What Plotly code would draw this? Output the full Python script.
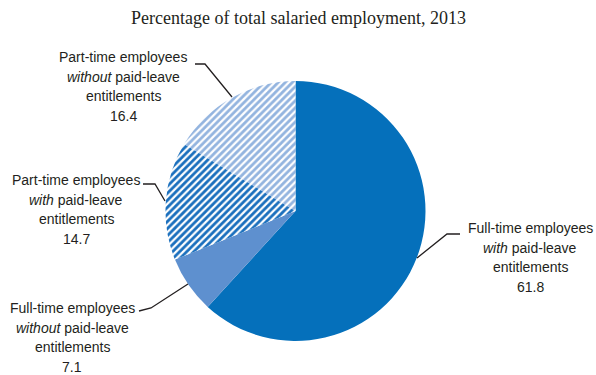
import plotly.graph_objects as go

# Shares of total salaried employment, 2013 (per cent)
categories = [
    "Full-time employees with paid-leave entitlements",
    "Full-time employees without paid-leave entitlements",
    "Part-time employees with paid-leave entitlements",
    "Part-time employees without paid-leave entitlements",
]
values = [61.8, 7.1, 14.7, 16.4]

# Label text lines (value appended from the data)
label_lines = [
    ["Full-time employees", "<i>with</i> paid-leave", "entitlements"],
    ["Full-time employees", "<i>without</i> paid-leave", "entitlements"],
    ["Part-time employees", "<i>with</i> paid-leave", "entitlements"],
    ["Part-time employees", "<i>without</i> paid-leave", "entitlements"],
]

W, H = 596, 375
slice_colors = ["#0570bb", "#5e90cf", "#ffffff", "#ffffff"]
pattern_shapes = ["", "", "/", "/"]
pattern_fg = ["#0570bb", "#5e90cf", "#1a6fbd", "#93b4df"]

# Pie placement in pixels
cx, cy, r = 295.5, 211, 130

fig = go.Figure()
fig.add_trace(go.Pie(
    labels=categories,
    values=values,
    sort=False,
    direction="clockwise",
    rotation=0,
    textinfo="none",
    hoverinfo="label+value",
    showlegend=False,
    marker=dict(
        colors=slice_colors,
        line=dict(width=0),
        pattern=dict(shape=pattern_shapes, fgcolor=pattern_fg,
                     bgcolor=slice_colors, size=5, solidity=0.55),
    ),
    domain=dict(x=[(cx - r) / W, (cx + r) / W],
                y=[(H - cy - r) / H, (H - cy + r) / H]),
))

# Label blocks: centre x and first-line y (pixels from top)
label_pos = [(530, 228), (72, 308), (76, 180), (123, 57)]
line_gap = 19.5
font = dict(family="Liberation Sans, Arial, sans-serif", size=14, color="#231f20")
for lines, val, (lx, ly) in zip(label_lines, values, label_pos):
    for i, txt in enumerate(lines + [f"{val:.1f}"]):
        fig.add_annotation(x=lx, y=ly + i * line_gap, xref="x", yref="y",
                           text=txt, showarrow=False, font=font,
                           xanchor="center", yanchor="middle")

# Leader lines
leaders = [
    [(460, 234), (447, 234), (417, 258)],
    [(139, 311), (151, 308), (188, 284)],
    [(143, 184), (155, 184), (165, 201)],
    [(195, 64), (205, 64), (232, 97)],
]
for pts in leaders:
    path = "M " + " L ".join(f"{x},{y}" for x, y in pts)
    fig.add_shape(type="path", path=path, xref="x", yref="y",
                  line=dict(color="#231f20", width=1.3))

fig.add_annotation(x=298, y=18, xref="x", yref="y",
                   text="Percentage of total salaried employment, 2013",
                   showarrow=False, xanchor="center", yanchor="middle",
                   font=dict(family="Liberation Serif, Times New Roman, serif",
                             size=18, color="#231f20"))

fig.update_xaxes(range=[0, W], visible=False, fixedrange=True)
fig.update_yaxes(range=[H, 0], visible=False, fixedrange=True)
fig.update_layout(
    width=W, height=H,
    margin=dict(l=0, r=0, t=0, b=0),
    paper_bgcolor="white", plot_bgcolor="rgba(0,0,0,0)",
    xaxis=dict(domain=[0, 1]), yaxis=dict(domain=[0, 1]),
)

fig.write_html("out.html")
